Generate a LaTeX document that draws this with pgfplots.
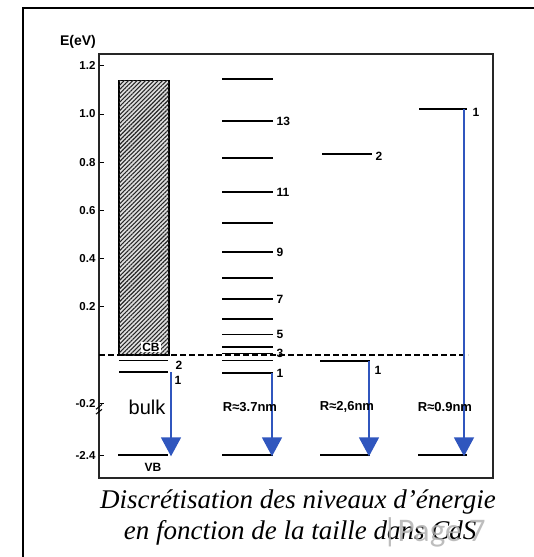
\documentclass[border=0pt]{standalone}
\usepackage{fontspec}
\setmainfont{Liberation Serif}
\setsansfont{Liberation Sans}
\newfontfamily\pagefont{Carlito}
\usepackage{pgfplots}
\pgfplotsset{compat=1.18}
\usetikzlibrary{arrows.meta,patterns.meta}
\definecolor{arrowblue}{RGB}{48,86,190}
\begin{document}
\begin{tikzpicture}
\useasboundingbox (0,0) rectangle (534pt,-557pt);
\draw[line width=1.4pt] (534pt,-8pt) -- (23pt,-8pt) -- (23pt,-557pt);
\begin{axis}[
  at={(99pt,-478pt)}, anchor=south west,
  scale only axis, width=394pt, height=424pt,
  xmin=99, xmax=493, ymin=-0.510, ymax=1.249,
  axis line style={line width=1.3pt, black!85},
  xtick=\empty,
  ytick={1.2,1.0,0.8,0.6,0.4,0.2,-0.2,-0.415},
  yticklabels={1.2,1.0,0.8,0.6,0.4,0.2,-0.2,-2.4},
  ytick pos=left, tick align=inside, major tick length=5pt,
  tick style={line width=1pt, black},
  /pgf/number format/assume math mode=true,
  yticklabel style={font=\sffamily\bfseries\fontsize{11.5}{13}\selectfont},
  clip=false,
]
% bulk conduction band (hatched)
\addplot[draw=black, line width=1.2pt, fill=gray!25] coordinates {(119,0) (119,1.14) (169,1.14) (169,0) (119,0)};
\addplot[draw=none, pattern={Lines[angle=45,distance=3pt,line width=1.1pt]}, pattern color=black!85] coordinates {(119,0) (119,1.14) (169,1.14) (169,0) (119,0)};
% bulk levels
\addplot[black, line width=1.7pt] coordinates {(119,-0.023) (168,-0.023)};
\addplot[black, line width=1.7pt] coordinates {(119,-0.071) (168,-0.071)};
\addplot[black, line width=1.7pt] coordinates {(118,-0.415) (168,-0.415)};
% R = 3.7 nm levels
\addplot[black, line width=1.7pt] coordinates {(222,1.145) (273,1.145)};
\addplot[black, line width=1.7pt] coordinates {(222,0.971) (273,0.971)};
\addplot[black, line width=1.7pt] coordinates {(222,0.817) (273,0.817)};
\addplot[black, line width=1.7pt] coordinates {(222,0.676) (273,0.676)};
\addplot[black, line width=1.7pt] coordinates {(222,0.548) (273,0.548)};
\addplot[black, line width=1.7pt] coordinates {(222,0.427) (273,0.427)};
\addplot[black, line width=1.7pt] coordinates {(222,0.320) (273,0.320)};
\addplot[black, line width=1.7pt] coordinates {(222,0.232) (273,0.232)};
\addplot[black, line width=1.7pt] coordinates {(222,0.149) (273,0.149)};
\addplot[black, line width=1.7pt] coordinates {(222,0.085) (273,0.085)};
\addplot[black, line width=1.7pt] coordinates {(222,0.033) (273,0.033)};
\addplot[black, line width=1.7pt] coordinates {(222,0.006) (273,0.006)};
\addplot[black, line width=1.7pt] coordinates {(222,-0.023) (273,-0.023)};
\addplot[black, line width=1.7pt] coordinates {(222,-0.075) (273,-0.075)};
\addplot[black, line width=1.7pt] coordinates {(222,-0.415) (273,-0.415)};
% R = 2.6 nm levels
\addplot[black, line width=1.7pt] coordinates {(322,0.834) (372,0.834)};
\addplot[black, line width=1.7pt] coordinates {(320,-0.025) (370,-0.025)};
\addplot[black, line width=1.7pt] coordinates {(320,-0.415) (370,-0.415)};
% R = 0.9 nm levels
\addplot[black, line width=1.7pt] coordinates {(419,1.021) (467,1.021)};
\addplot[black, line width=1.7pt] coordinates {(418,-0.415) (467,-0.415)};
% band edge (E = 0)
\addplot[black, line width=1.2pt, dash pattern=on 6pt off 3pt] coordinates {(99,0) (468,0)};
% transitions
\addplot[arrowblue, line width=1.8pt, -{Triangle[width=20pt,length=19pt]}] coordinates {(171,-0.071) (171,-0.42)};
\addplot[arrowblue, line width=1.8pt, -{Triangle[width=20pt,length=19pt]}] coordinates {(272,-0.075) (272,-0.42)};
\addplot[arrowblue, line width=1.8pt, -{Triangle[width=20pt,length=19pt]}] coordinates {(369,-0.025) (369,-0.42)};
\addplot[arrowblue, line width=1.8pt, -{Triangle[width=20pt,length=19pt]}] coordinates {(464,1.021) (464,-0.42)};
% labels
\begin{scope}[every node/.style={font=\sffamily\bfseries\fontsize{12}{13}\selectfont, inner sep=0.5pt}]
\node[anchor=west] at (axis cs:276,0.971) {13};
\node[anchor=west] at (axis cs:276,0.676) {11};
\node[anchor=west] at (axis cs:276,0.427) {9};
\node[anchor=west] at (axis cs:276,0.232) {7};
\node[anchor=west] at (axis cs:276,0.085) {5};
\node[anchor=west] at (axis cs:276,0.006) {3};
\node[anchor=west] at (axis cs:276,-0.075) {1};
\node[anchor=west] at (axis cs:175,-0.041) {2};
\node[anchor=west] at (axis cs:174,-0.104) {1};
\node[anchor=west] at (axis cs:375,0.826) {2};
\node[anchor=west] at (axis cs:374,-0.062) {1};
\node[anchor=west] at (axis cs:472,1.008) {1};
\node[fill=white, inner sep=1pt] at (axis cs:151,0.033) {CB};
\node at (axis cs:153,-0.465) {VB};
\end{scope}
\node[font=\sffamily\fontsize{20}{22}\selectfont] at (axis cs:147,-0.216) {bulk};
\begin{scope}[every node/.style={font=\sffamily\bfseries\fontsize{13}{14}\selectfont}]
\node at (axis cs:250,-0.216) {R≈3.7nm};
\node at (axis cs:347,-0.216) {R≈2,6nm};
\node at (axis cs:445,-0.216) {R≈0.9nm};
\end{scope}
% axis break mark
\draw[line width=1pt] (axis cs:96,-0.225) -- (axis cs:102,-0.205);
\draw[line width=1pt] (axis cs:96,-0.245) -- (axis cs:102,-0.225);
\end{axis}
\node[font=\sffamily\bfseries\fontsize{14}{15}\selectfont] at (78pt,-42pt) {E(eV)};
\node[font=\itshape\fontsize{27}{29}\selectfont] at (298pt,-502pt) {Discrétisation des niveaux d'énergie};
\node[font=\itshape\fontsize{27}{29}\selectfont] at (300pt,-533pt) {en fonction de la taille dans CdS};
\node[font=\pagefont\fontsize{33}{35}\selectfont, text=gray!60, opacity=0.85] at (434pt,-532pt) {|Page 7};
\end{tikzpicture}
\end{document}
